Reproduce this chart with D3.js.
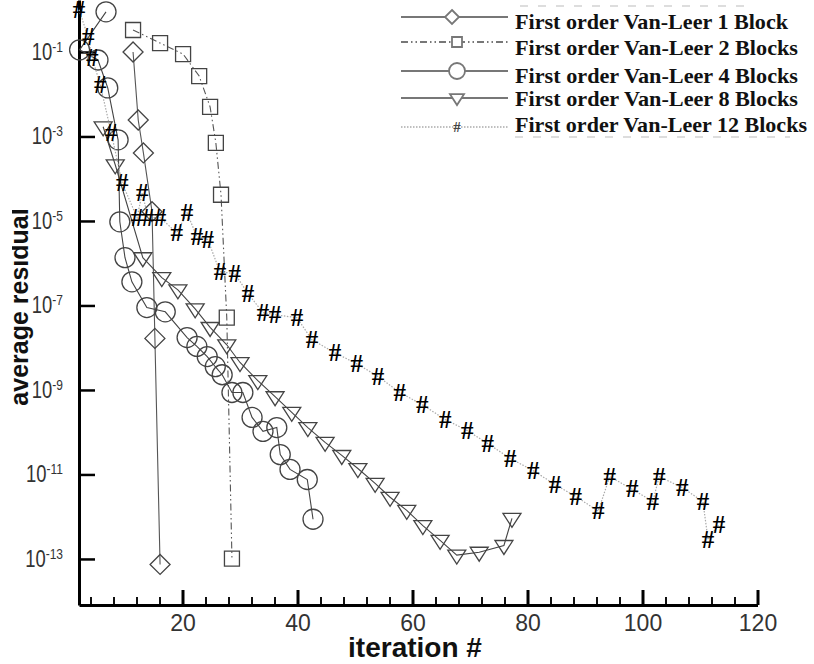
<!DOCTYPE html>
<html>
<head>
<meta charset="utf-8">
<script src="https://cdn.jsdelivr.net/npm/d3@7"></script>
<style>
  body { margin: 0; background: #fff; }
</style>
</head>
<body>
<div id="chart"></div>
<script>
// residuals kept as log10 exponents
var legendNames = [
  "First order Van-Leer 1 Block",
  "First order Van-Leer 2 Blocks",
  "First order Van-Leer 4 Blocks",
  "First order Van-Leer 8 Blocks",
  "First order Van-Leer 12 Blocks"
]

var block1Iter = [11.4, 12.3, 13.2, 14.7, 15.2, 16.1]
var block1Log = [-1.00, -2.61, -3.39, -4.78, -7.78, -13.13]

var block2Iter = [11.4, 16.1, 20.1, 22.9, 24.8, 25.8, 26.7, 27.7, 28.6]
var block2Log = [-0.48, -0.79, -1.05, -1.57, -2.30, -3.15, -4.38, -7.29, -12.99]

var block4Iter = [6.7, 2.1, 5.3, 7.0, 8.8, 9.1, 10.0, 11.2, 13.8, 17.0, 20.8, 22.5, 24.3, 25.7,
  26.9, 28.6, 30.5, 32.1, 34.0, 36.4, 37.0, 38.7, 41.7, 42.7]
var block4Log = [-0.05, -0.95, -1.19, -1.85, -3.08, -5.02, -5.87, -6.44, -7.05, -7.15, -7.76, -7.97, -8.21, -8.45,
  -8.64, -9.06, -9.06, -9.65, -9.98, -9.89, -10.53, -10.88, -11.12, -12.06]

var block8Iter = [6.2, 8.3, 13.1, 16.4, 19.2, 22.2, 24.8, 27.7, 30.0, 33.1, 36.1, 39.0, 41.8,
  44.8, 47.7, 50.5, 53.5, 56.1, 59.0, 61.8, 64.8, 67.7, 71.6, 75.9, 77.3]
var block8Log = [-2.77, -3.67, -5.87, -6.34, -6.63, -7.08, -7.52, -7.93, -8.35, -8.78, -9.16, -9.53, -9.89,
  -10.24, -10.55, -10.86, -11.21, -11.54, -11.85, -12.21, -12.56, -12.91, -12.84, -12.68, -12.04]

var block12Iter = [2.0, 3.6, 4.3, 5.7, 7.6, 9.5, 12.1, 13.0, 14.0, 16.1, 19.0, 20.8, 22.5, 24.4,
  26.5, 29.1, 31.4, 34.0, 36.1, 39.9, 42.5, 46.5, 50.3, 54.0, 57.8, 61.7, 65.7, 69.5, 73.1,
  77.0, 81.0, 84.8, 88.4, 92.3, 94.3, 98.2, 101.8, 102.9, 106.9, 110.5, 111.4, 113.3]
var block12Log = [0.0, -0.65, -1.14, -1.78, -2.91, -4.10, -4.92, -4.33, -4.92, -4.92, -5.28, -4.81, -5.37, -5.44,
  -6.20, -6.25, -6.72, -7.17, -7.22, -7.29, -7.81, -8.12, -8.38, -8.68, -9.06, -9.35, -9.70, -9.96, -10.27,
  -10.62, -10.91, -11.24, -11.52, -11.87, -11.05, -11.35, -11.64, -11.05, -11.31, -11.64, -12.54, -12.18]

var xMajorTicks = [20, 40, 60, 80, 100, 120]
var xMinorTicks = [4, 8, 12, 16, 24, 28, 32, 36, 44, 48, 52, 56, 64, 68, 72, 76, 84, 88, 92, 96, 104, 108, 112, 116]
var yTickExps = [-1, -3, -5, -7, -9, -11, -13]

var width = 814, height = 664

var svg = d3.select("#chart")
  .append("svg")
  .attr("width", width)
  .attr("height", height)

var xPositionScale = d3.scaleLinear().domain([2, 120]).range([79, 757.5])
var yPositionScale = d3.scaleLog().domain([Math.pow(10, -14.09), Math.pow(10, 0.23)]).range([605, 0])

function zip(xs, ls) {
  return xs.map(function(x, i) { return { x: x, v: Math.pow(10, ls[i]) } })
}

var series = [
  { name: legendNames[0], data: zip(block1Iter, block1Log), marker: "diamond", dash: null, color: "#555" },
  { name: legendNames[1], data: zip(block2Iter, block2Log), marker: "square", dash: "7,3,1.5,3,1.5,3", color: "#555" },
  { name: legendNames[2], data: zip(block4Iter, block4Log), marker: "circle", dash: null, color: "#444" },
  { name: legendNames[3], data: zip(block8Iter, block8Log), marker: "triangle", dash: null, color: "#444" },
  { name: legendNames[4], data: zip(block12Iter, block12Log), marker: "hash", dash: "1.5,1.5", color: "#aaa" }
]

function markerPath(kind, s) {
  if (kind === "diamond") return "M0," + (-s) + "L" + s + ",0L0," + s + "L" + (-s) + ",0Z"
  if (kind === "square") return "M" + (-s) + "," + (-s) + "h" + (2 * s) + "v" + (2 * s) + "h" + (-2 * s) + "Z"
  if (kind === "circle") return "M" + s + ",0A" + s + "," + s + " 0 1,1 " + (-s) + ",0A" + s + "," + s + " 0 1,1 " + s + ",0Z"
  if (kind === "triangle") return "M" + (-s) + "," + (-0.55 * s) + "L" + s + "," + (-0.55 * s) + "L0," + (s) + "Z"
  return ""
}
var markerSize = { diamond: 10, square: 7.5, circle: 10, triangle: 9 }

// axes
var xAxis = d3.axisBottom(xPositionScale).tickValues(xMajorTicks).tickSize(-15).tickSizeOuter(0).tickPadding(10)
var xMinor = d3.axisBottom(xPositionScale).tickValues(xMinorTicks).tickSize(-8).tickSizeOuter(0).tickFormat("")
var yAxis = d3.axisLeft(yPositionScale)
  .tickValues(yTickExps.map(function(e) { return Math.pow(10, e) }))
  .tickSize(-16).tickSizeOuter(0).tickFormat("")

svg.append("g")
  .attr("class", "axis x-minor")
  .attr("transform", "translate(0,605)")
  .call(xMinor)
  .call(function(g) { g.select(".domain").remove() })
  .selectAll("line").attr("stroke", "#111").attr("stroke-width", 2)

var xg = svg.append("g")
  .attr("class", "axis x-axis")
  .attr("transform", "translate(0,605)")
  .call(xAxis)
xg.select(".domain").attr("stroke", "#000").attr("stroke-width", 3)
xg.selectAll("line").attr("stroke", "#000").attr("stroke-width", 3)
xg.selectAll("text")
  .attr("font-family", "Liberation Sans, Arial, sans-serif")
  .attr("font-size", 23)
  .attr("fill", "#333")

var yg = svg.append("g")
  .attr("class", "axis y-axis")
  .attr("transform", "translate(79,0)")
  .call(yAxis)
yg.select(".domain").attr("stroke", "#000").attr("stroke-width", 3)
yg.selectAll("line").attr("stroke", "#000").attr("stroke-width", 2.5)

var yLabels = svg.append("g").attr("class", "y-labels")
yTickExps.forEach(function(e) {
  var t = yLabels.append("text")
    .attr("transform", "translate(63," + (yPositionScale(Math.pow(10, e)) + 8) + ") scale(0.8,1)")
    .attr("text-anchor", "end")
    .attr("font-family", "Liberation Sans, Arial, sans-serif")
    .attr("font-size", 23)
    .attr("fill", "#333")
  t.append("tspan").text("10")
  t.append("tspan").attr("dy", -8).attr("font-size", 15).text("-" + Math.abs(e))
})

svg.append("text")
  .attr("x", 415)
  .attr("y", 657)
  .attr("text-anchor", "middle")
  .attr("font-family", "Liberation Sans, Arial, sans-serif")
  .attr("font-weight", "bold")
  .attr("font-size", 28)
  .attr("fill", "#111")
  .text("iteration #")

// the y title is cut by the picture's left edge in the original
svg.append("clipPath").attr("id", "ylabClip")
  .append("rect").attr("x", 12).attr("y", 0).attr("width", 60).attr("height", 664)

svg.append("g")
  .attr("clip-path", "url(#ylabClip)")
  .append("text")
  .attr("transform", "translate(28,307) rotate(-90)")
  .attr("text-anchor", "middle")
  .attr("font-family", "Liberation Sans, Arial, sans-serif")
  .attr("font-weight", "bold")
  .attr("font-size", 25)
  .attr("fill", "#111")
  .text("average residual")

// series
var line = d3.line()
  .x(function(d) { return xPositionScale(d.x) })
  .y(function(d) { return yPositionScale(d.v) })

series.forEach(function(s) {
  svg.append("path")
    .datum(s.data)
    .attr("d", line)
    .attr("fill", "none")
    .attr("stroke", s.color)
    .attr("stroke-width", s.marker === "hash" ? 1.2 : 1.1)
    .attr("stroke-dasharray", s.dash)

  if (s.marker === "hash") {
    svg.selectAll(".hash")
      .data(s.data)
      .enter().append("text")
      .attr("class", "hash")
      .attr("x", function(d) { return xPositionScale(d.x) })
      .attr("y", function(d) { return yPositionScale(d.v) })
      .attr("dy", "0.33em")
      .attr("text-anchor", "middle")
      .attr("font-family", "Liberation Serif, Times New Roman, serif")
      .attr("font-weight", "bold")
      .attr("font-size", 25)
      .attr("fill", "#000")
      .text("#")
  } else {
    svg.selectAll(".m-" + s.marker)
      .data(s.data)
      .enter().append("path")
      .attr("class", "m-" + s.marker)
      .attr("transform", function(d) { return "translate(" + xPositionScale(d.x) + "," + yPositionScale(d.v) + ")" })
      .attr("d", markerPath(s.marker, markerSize[s.marker]))
      .attr("fill", "none")
      .attr("stroke", "#444")
      .attr("stroke-width", 1.3)
  }
})

// legend
var legendLineY = [17, 42, 71, 98, 127]
var legendTextY = [29, 55, 83, 106, 132]
var legendTextW = [273, 283, 283, 283, 292]
var legendMarkX = [452, 457, 457, 457, 457]
var legendSize = { diamond: 7, square: 5, circle: 8, triangle: 7 }

var legend = svg.append("g").attr("class", "legend")
legend.append("line").attr("x1", 520).attr("x2", 752).attr("y1", 6).attr("y2", 6)
  .attr("stroke", "#ddd").attr("stroke-width", 2).attr("stroke-dasharray", "8,10")
legend.append("line").attr("x1", 515).attr("x2", 790).attr("y1", 137).attr("y2", 137)
  .attr("stroke", "#ddd").attr("stroke-width", 2).attr("stroke-dasharray", "8,10")

series.forEach(function(s, i) {
  legend.append("line")
    .attr("x1", 401).attr("x2", 508)
    .attr("y1", legendLineY[i]).attr("y2", legendLineY[i])
    .attr("stroke", s.marker === "hash" ? "#aaa" : "#777")
    .attr("stroke-width", s.marker === "hash" ? 1.5 : 2.2)
    .attr("stroke-dasharray", s.dash)
  if (s.marker === "hash") {
    legend.append("text")
      .attr("x", legendMarkX[i]).attr("y", legendLineY[i]).attr("dy", "0.33em")
      .attr("text-anchor", "middle")
      .attr("font-family", "Liberation Serif, serif").attr("font-weight", "bold")
      .attr("font-size", 15).attr("fill", "#444")
      .text("#")
  } else {
    legend.append("path")
      .attr("transform", "translate(" + legendMarkX[i] + "," + legendLineY[i] + ")")
      .attr("d", markerPath(s.marker, legendSize[s.marker]))
      .attr("fill", "#fff")
      .attr("stroke", "#777")
      .attr("stroke-width", 1.8)
  }
  legend.append("text")
    .attr("x", 515).attr("y", legendTextY[i])
    .attr("font-family", "Liberation Serif, Times New Roman, serif")
    .attr("font-weight", "bold")
    .attr("font-size", 22)
    .attr("textLength", legendTextW[i])
    .attr("lengthAdjust", "spacingAndGlyphs")
    .attr("fill", "#111")
    .text(s.name)
})
</script>
</body>
</html>
